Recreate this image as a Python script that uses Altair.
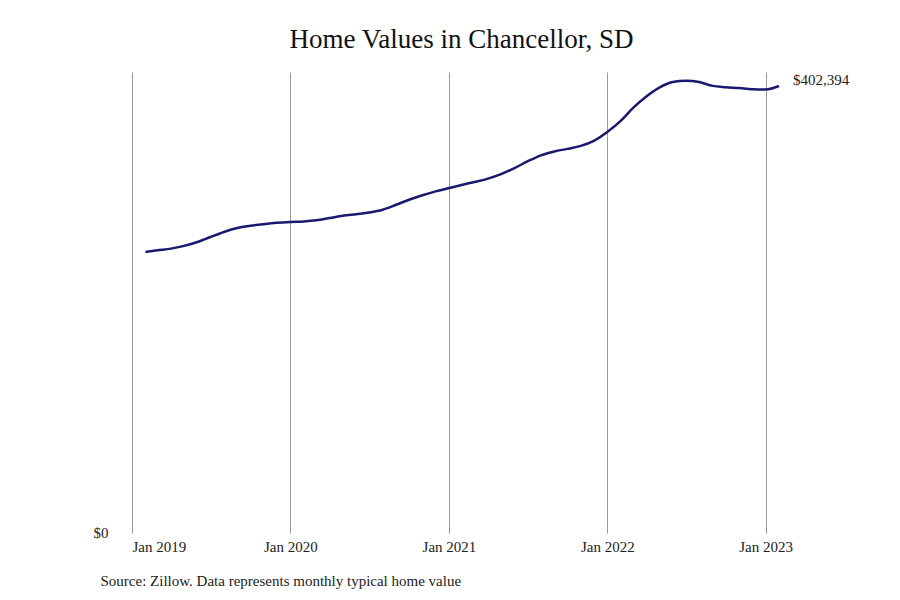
import altair as alt
import pandas as pd

months = pd.date_range("2019-02-01", "2023-02-01", freq="MS").strftime("%Y-%m-%d").tolist()
values = [
    253000, 254500, 256000, 258500, 262000, 266500, 271000, 274500, 276500, 278000, 279200,
    280000, 280500, 281500, 283500, 285500, 287000, 288500, 291000, 295500, 300000, 304000, 307500,
    310500, 313500, 316000, 319000, 323000, 328500, 334500, 340000, 343500, 345800, 348500, 353000,
    361000, 371000, 382500, 393000, 401000, 406000, 407200, 406000, 402500, 401300, 400500, 399500,
    399300, 402394,
]
title_text = "Home Values in Chancellor, SD"
source_text = "Source: Zillow. Data represents monthly typical home value"
end_label = "$402,394"

df = pd.DataFrame({"date": months, "value": values})
last = df.tail(1).assign(label=end_label)

FONT = "Liberation Serif"

x_enc = alt.X(
    "date:T",
    scale=alt.Scale(domain=["2019-01-01", "2023-02-01"], nice=False),
    axis=alt.Axis(
        format="%b %Y",
        tickCount={"interval": "year", "step": 1},
        grid=True,
        gridColor="#999999",
        gridWidth=1,
        domain=False,
        ticks=False,
        labelPadding=6,
        labelFont=FONT,
        labelFontSize=15,
        labelColor="#222222",
        title=source_text,
        titleFont=FONT,
        titleFontSize=15,
        titleFontWeight="normal",
        titleColor="#222222",
        titleAnchor="start",
        titleAlign="left",
        titleX=-32,
        titleY=47,
        titleBaseline="middle",
    ),
)
y_enc = alt.Y(
    "value:Q",
    scale=alt.Scale(domain=[0, 415000], nice=False),
    axis=alt.Axis(
        values=[0],
        format="$,.0f",
        grid=False,
        domain=False,
        ticks=False,
        labelPadding=24,
        labelFont=FONT,
        labelFontSize=15,
        labelColor="#222222",
        labelOffset=-1,
        title=None,
    ),
)

line = alt.Chart(df).mark_line(color="#191970", strokeWidth=2.5, interpolate="monotone").encode(
    x=x_enc, y=y_enc
)
label = alt.Chart(last).mark_text(
    align="left", dx=14, dy=-6, font=FONT, fontSize=15, color="#222222"
).encode(x="date:T", y="value:Q", text="label:N")

chart = (
    alt.layer(line, label)
    .properties(
        width=647,
        height=461,
        autosize=alt.AutoSizeParams(type="none"),
        padding={"left": 124, "top": 64, "right": 100, "bottom": 60},
        title=alt.TitleParams(
            title_text, font=FONT, fontSize=27, fontWeight="normal", color="#111111",
            anchor="middle", offset=18, dx=6,
        ),
    )
    .configure(background="white")
    .configure_view(strokeWidth=0)
    .configure_axisY(grid=False)
)

chart.save("out.html", embed_options={"renderer": "svg", "actions": False})
